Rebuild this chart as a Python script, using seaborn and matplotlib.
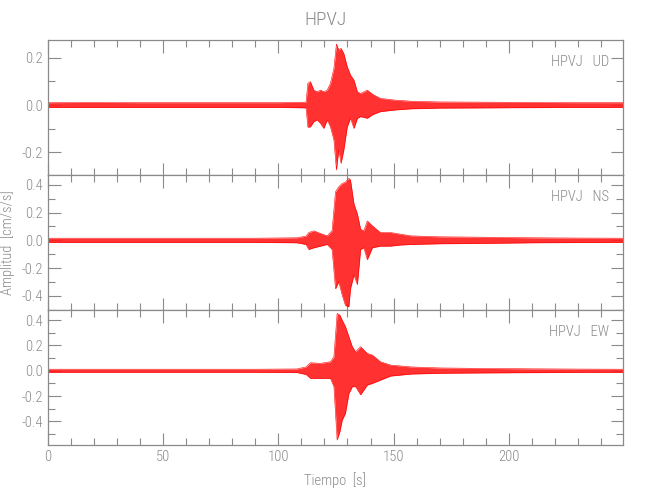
import numpy as np
import matplotlib
matplotlib.use('Agg')
import matplotlib.pyplot as plt
from matplotlib.ticker import MultipleLocator, FormatStrFormatter
import seaborn as sns

# --- datos: envolvente (tiempo [s], amplitud [cm/s/s]) ---
t_ud = [0, 20, 40, 60, 80, 100, 112, 112.8, 113.9, 115.4, 116.8, 118.3, 119.7, 121.2,
        122.6, 124.1, 125.2, 126.2, 127.2, 128.4, 129.9, 131.3, 132.8, 134.3, 135.7,
        138.6, 141, 144.3, 150.4, 157.6, 170, 190, 210, 230, 250]
up_ud = [0.010, 0.011, 0.010, 0.010, 0.010, 0.010, 0.012, 0.092, 0.099, 0.063, 0.056,
         0.063, 0.056, 0.063, 0.092, 0.155, 0.258, 0.233, 0.24, 0.218, 0.162, 0.127,
         0.106, 0.056, 0.049, 0.063, 0.045, 0.028, 0.021, 0.016, 0.013, 0.012, 0.011,
         0.010, 0.010]
lo_ud = [-0.010, -0.010, -0.010, -0.010, -0.010, -0.010, -0.012, -0.094, -0.092, -0.07,
         -0.063, -0.078, -0.099, -0.063, -0.092, -0.148, -0.275, -0.19, -0.247, -0.19,
         -0.092, -0.056, -0.099, -0.056, -0.049, -0.056, -0.04, -0.028, -0.021, -0.016,
         -0.013, -0.012, -0.011, -0.010, -0.010]

t_ns = [0, 30, 60, 90, 108, 112, 113.2, 115.4, 118.3, 121.2, 123.3, 124.8, 126.2, 127.7,
        129.1, 130.6, 131.3, 132.8, 134.3, 135.7, 137.1, 138.6, 140.8, 144.3, 148.7, 153,
        157.6, 170, 190, 210, 230, 250]
up_ns = [0.015, 0.015, 0.015, 0.015, 0.018, 0.03, 0.056, 0.068, 0.049, 0.032, 0.07, 0.35,
         0.386, 0.41, 0.42, 0.447, 0.435, 0.264, 0.19, 0.08, 0.068, 0.14, 0.105, 0.056,
         0.056, 0.044, 0.032, 0.025, 0.022, 0.018, 0.016, 0.015]
lo_ns = [-0.015, -0.015, -0.015, -0.015, -0.018, -0.03, -0.066, -0.054, -0.042, -0.03,
         -0.066, -0.35, -0.30, -0.396, -0.47, -0.48, -0.35, -0.25, -0.32, -0.066, -0.054,
         -0.14, -0.054, -0.042, -0.042, -0.034, -0.03, -0.025, -0.022, -0.018, -0.016,
         -0.015]

t_ew = [0, 30, 60, 90, 108, 112, 113.9, 118.3, 122.6, 124.1, 125.5, 126.7, 127.7, 129.1,
        130.6, 132.1, 133.5, 135.7, 138.6, 140.8, 144.3, 148.7, 157.6, 170, 190, 210,
        230, 250]
up_ew = [0.012, 0.012, 0.012, 0.012, 0.014, 0.03, 0.063, 0.058, 0.071, 0.11, 0.453, 0.44,
         0.40, 0.35, 0.27, 0.19, 0.15, 0.19, 0.137, 0.124, 0.071, 0.045, 0.03, 0.022,
         0.018, 0.015, 0.013, 0.012]
lo_ew = [-0.012, -0.012, -0.012, -0.012, -0.014, -0.03, -0.06, -0.06, -0.06, -0.126,
         -0.548, -0.48, -0.39, -0.337, -0.18, -0.126, -0.126, -0.19, -0.113, -0.1, -0.074,
         -0.042, -0.026, -0.02, -0.017, -0.015, -0.013, -0.012]

station = 'HPVJ'
components = ['UD', 'NS', 'EW']
ylims = [(-0.296, 0.275), (-0.503, 0.471), (-0.587, 0.48)]

# --- estilo ---
sns.set_style('ticks')
gray = '#8a8a8a'
plt.rcParams.update({
    'font.family': ['Roboto Condensed', 'Roboto', 'DejaVu Sans'],
    'font.weight': 'light',
    'axes.labelweight': 'light',
    'font.size': 10.5,
    'text.color': gray,
    'axes.labelcolor': gray,
    'axes.edgecolor': gray,
    'xtick.color': gray,
    'ytick.color': gray,
    'axes.linewidth': 0.9,
})

fig, axes = plt.subplots(3, 1, figsize=(6.5, 5.0), dpi=100, sharex=True)
fig.subplots_adjust(left=0.074, right=0.958, top=0.92, bottom=0.11, hspace=0)

series = [(t_ud, up_ud, lo_ud), (t_ns, up_ns, lo_ns), (t_ew, up_ew, lo_ew)]
for i, ax in enumerate(axes):
    t, up, lo = series[i]
    ax.fill_between(t, lo, up, color='#ff1a1a', alpha=0.9, lw=0)
    sns.lineplot(x=t, y=up, ax=ax, color='red', lw=0.4)
    sns.lineplot(x=t, y=lo, ax=ax, color='red', lw=0.4)

    ax.set_xlim(0, 249.5)
    ax.set_ylim(*ylims[i])
    ax.xaxis.set_major_locator(MultipleLocator(50))
    ax.xaxis.set_minor_locator(MultipleLocator(10))
    ax.yaxis.set_major_locator(MultipleLocator(0.2))
    ax.yaxis.set_minor_locator(MultipleLocator(0.1))
    ax.yaxis.set_major_formatter(FormatStrFormatter('%.1f'))
    ax.tick_params(which='both', direction='in', top=True, right=True, width=0.8)
    ax.tick_params(which='major', length=9)
    ax.tick_params(which='minor', length=5)
    ax.set_ylabel('')
    ax.text(0.977, 0.837, f'{station}   {components[i]}', transform=ax.transAxes,
            ha='right', va='center')

axes[1].set_ylabel('Amplitud  [cm/s/s]')
axes[1].yaxis.set_label_coords(-0.058, 0.5)
axes[2].set_xlabel('Tiempo  [s]', labelpad=6)
fig.suptitle(station, y=0.978, fontsize=14, color=gray, fontweight='light')

plt.savefig('out.png', dpi=100, facecolor='white')
